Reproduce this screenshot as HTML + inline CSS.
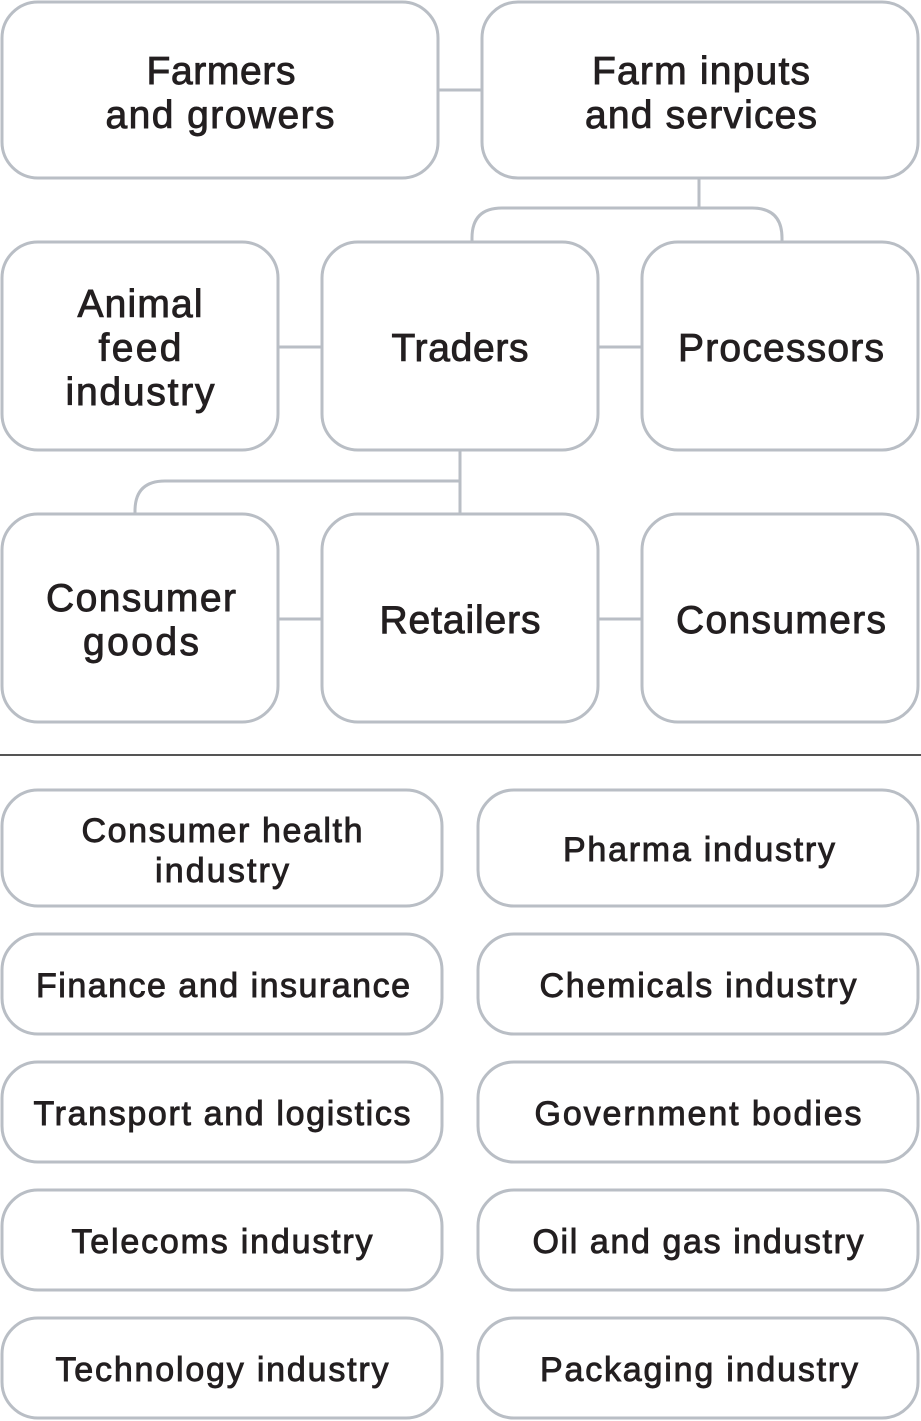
<!DOCTYPE html>
<html><head><meta charset="utf-8"><style>
html,body{margin:0;padding:0;background:#fff;}
svg{display:block;}
text{font-family:"Liberation Sans",Arial,sans-serif;fill:#231f20;stroke:#231f20;stroke-width:0.9;text-anchor:middle;}
.b{fill:#fff;stroke:#b9bec5;stroke-width:3;}
.l{fill:none;stroke:#b9bec5;stroke-width:3;}
.t{font-size:39px;}
.s{font-size:34px;}
</style></head><body>
<svg width="921" height="1421" viewBox="0 0 921 1421">
<line class="l" x1="438" y1="90" x2="482" y2="90"/>
<path class="l" d="M699 178 V208 M472 242 V238 Q472 208 502 208 H752 Q782 208 782 238 V242"/>
<line class="l" x1="278" y1="347" x2="322" y2="347"/>
<line class="l" x1="598" y1="347" x2="642" y2="347"/>
<path class="l" d="M460 450 V513 M460 481 H165 Q135 481 135 511 V514"/>
<line class="l" x1="278" y1="619" x2="322" y2="619"/>
<line class="l" x1="598" y1="619" x2="642" y2="619"/>
<rect class="b" x="2" y="2" width="436" height="176" rx="36"/>
<rect class="b" x="482" y="2" width="436" height="176" rx="36"/>
<rect class="b" x="2" y="242" width="276" height="208" rx="36"/>
<rect class="b" x="322" y="242" width="276" height="208" rx="36"/>
<rect class="b" x="642" y="242" width="276" height="208" rx="36"/>
<rect class="b" x="2" y="514" width="276" height="208" rx="36"/>
<rect class="b" x="322" y="514" width="276" height="208" rx="36"/>
<rect class="b" x="642" y="514" width="276" height="208" rx="36"/>
<text class="t" x="221" y="84" textLength="149">Farmers</text>
<text class="t" x="220" y="128" textLength="229">and growers</text>
<text class="t" x="701" y="84" textLength="218">Farm inputs</text>
<text class="t" x="701" y="128" textLength="232">and services</text>
<text class="t" x="140" y="317" textLength="125">Animal</text>
<text class="t" x="140" y="361" textLength="83">feed</text>
<text class="t" x="140" y="405" textLength="149">industry</text>
<text class="t" x="460" y="361" textLength="137">Traders</text>
<text class="t" x="781" y="361" textLength="206">Processors</text>
<text class="t" x="141" y="611" textLength="190">Consumer</text>
<text class="t" x="141" y="655" textLength="116">goods</text>
<text class="t" x="460" y="633" textLength="161">Retailers</text>
<text class="t" x="781" y="633" textLength="210">Consumers</text>
<line x1="0" y1="755" x2="921" y2="755" stroke="#555" stroke-width="2"/>
<rect class="b" x="2" y="790" width="440" height="116" rx="36"/>
<rect class="b" x="478" y="790" width="440" height="116" rx="36"/>
<rect class="b" x="2" y="934" width="440" height="100" rx="36"/>
<rect class="b" x="478" y="934" width="440" height="100" rx="36"/>
<rect class="b" x="2" y="1062" width="440" height="100" rx="36"/>
<rect class="b" x="478" y="1062" width="440" height="100" rx="36"/>
<rect class="b" x="2" y="1190" width="440" height="100" rx="36"/>
<rect class="b" x="478" y="1190" width="440" height="100" rx="36"/>
<rect class="b" x="2" y="1318" width="440" height="100" rx="36"/>
<rect class="b" x="478" y="1318" width="440" height="100" rx="36"/>
<text class="s" x="222" y="842" textLength="281">Consumer health</text>
<text class="s" x="222" y="882" textLength="134">industry</text>
<text class="s" x="699" y="861" textLength="272">Pharma industry</text>
<text class="s" x="223" y="997" textLength="374">Finance and insurance</text>
<text class="s" x="698" y="997" textLength="317">Chemicals industry</text>
<text class="s" x="222" y="1125" textLength="377">Transport and logistics</text>
<text class="s" x="698" y="1125" textLength="327">Government bodies</text>
<text class="s" x="222" y="1253" textLength="301">Telecoms industry</text>
<text class="s" x="698" y="1253" textLength="331">Oil and gas industry</text>
<text class="s" x="222" y="1381" textLength="333">Technology industry</text>
<text class="s" x="699" y="1381" textLength="318">Packaging industry</text>
</svg>
</body></html>
